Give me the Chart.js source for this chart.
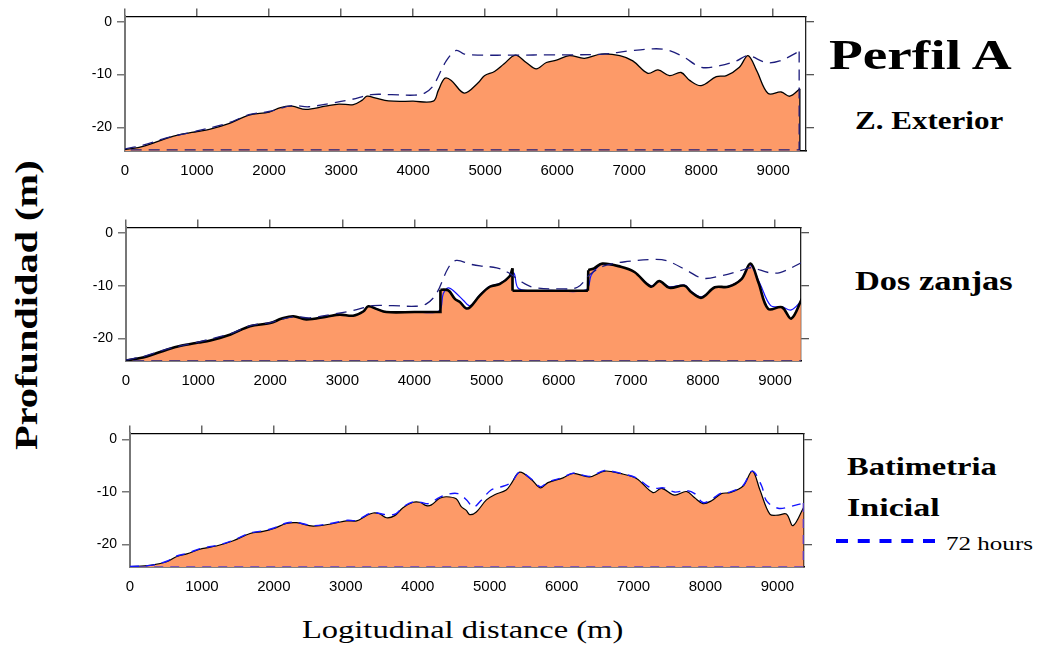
<!DOCTYPE html>
<html>
<head>
<meta charset="utf-8">
<script src="https://cdn.jsdelivr.net/npm/chart.js@4.4.1/dist/chart.umd.min.js"></script>
<style>
    body { margin: 0; background: #fff; width: 1038px; height: 647px; position: relative; overflow: hidden; }
    canvas { position: absolute; }
    .lbl { position: absolute; white-space: nowrap; line-height: 1; font-family: "Liberation Serif", serif; color: #000; transform-origin: 0 0; }
    .b { font-weight: bold; }
</style>
</head>
<body>
<canvas id="c1"></canvas>
<canvas id="c2"></canvas>
<canvas id="c3"></canvas>
<svg style="position:absolute;left:835px;top:535px" width="102" height="12">
    <line x1="1" y1="6" x2="101" y2="6" stroke="#0000ff" stroke-width="4" stroke-dasharray="12 9.75"/>
</svg>
<script>
// ticks
const xTicks = [0, 1000, 2000, 3000, 4000, 5000, 6000, 7000, 8000, 9000];
const yTicks = [0, -10, -20];
const floorDepth = -24.3;

// Perfil A - Z. Exterior
const p1BedX = [0, 250, 575, 760, 1000, 1170, 1450, 1720, 2000, 2160, 2320, 2510, 2780, 2970, 3170, 3290, 3360, 3470, 3660, 4000, 4280, 4350, 4440, 4530, 4710, 4900, 4990, 5130, 5260, 5420, 5570, 5710, 5850, 5990, 6170, 6380, 6610, 6870, 7050, 7260, 7400, 7560, 7720, 7840, 8000, 8210, 8350, 8530, 8650, 8770, 8930, 9110, 9230, 9370];
const p1BedY = [-24.25, -23.6, -22.1, -21.4, -20.8, -20.4, -19.25, -17.7, -17.1, -16.25, -16.0, -16.6, -16.0, -15.6, -15.7, -14.9, -14.1, -14.4, -15.0, -15.05, -15.05, -13.0, -10.7, -11.1, -13.5, -11.6, -10.2, -9.4, -8.0, -6.3, -7.7, -8.9, -7.7, -7.25, -6.4, -6.9, -6.1, -6.4, -7.4, -9.75, -9.1, -10.2, -9.6, -11.1, -12.1, -10.4, -10.2, -8.6, -6.4, -9.25, -13.6, -13.3, -14.1, -12.7];
const p1DashX = [0, 250, 575, 1000, 1450, 1720, 2000, 2320, 2550, 2870, 3150, 3420, 3700, 4020, 4160, 4280, 4460, 4600, 4710, 4940, 5400, 5940, 6170, 6640, 7000, 7330, 7520, 7750, 8000, 8260, 8490, 8650, 8900, 9090, 9360];
const p1DashY = [-24.1, -23.4, -22.0, -20.7, -19.1, -17.6, -17.0, -15.9, -16.1, -15.4, -14.7, -13.8, -13.8, -13.9, -13.5, -12.1, -7.4, -5.4, -6.1, -6.3, -6.3, -6.25, -6.25, -6.1, -5.5, -5.1, -5.3, -6.6, -8.6, -8.3, -7.4, -6.4, -7.7, -7.4, -5.6];

// Dos zanjas
const p2BedX = [0, 250, 575, 760, 1000, 1170, 1450, 1720, 2000, 2160, 2320, 2500, 2780, 2965, 3150, 3290, 3360, 3470, 3610, 4000, 4355, 4360, 4470, 4560, 4630, 4710, 4770, 4905, 5045, 5180, 5320, 5358, 5360, 5900, 6405, 6410, 6490, 6605, 6860, 7050, 7280, 7395, 7535, 7745, 7840, 7980, 8165, 8350, 8535, 8660, 8770, 8905, 9095, 9225, 9372];
const p2BedY = [-24.2, -23.6, -22.1, -21.4, -20.8, -20.4, -19.25, -17.7, -17.1, -16.25, -15.8, -16.4, -15.9, -15.5, -15.7, -14.9, -13.9, -14.4, -15.0, -15.0, -15.0, -10.75, -10.9, -12.5, -13.1, -14.25, -14.1, -11.9, -10.2, -9.7, -8.2, -6.7, -10.95, -10.95, -10.95, -7.05, -6.7, -5.8, -6.4, -7.4, -10.2, -9.1, -10.4, -10.0, -11.25, -12.3, -10.3, -10.2, -8.75, -5.8, -9.4, -14.4, -14.1, -16.25, -12.5];
const p2BlueX = [0, 250, 575, 760, 1000, 1170, 1450, 1720, 2000, 2160, 2320, 2500, 2780, 2965, 3150, 3290, 3360, 3470, 3610, 4000, 4340, 4400, 4470, 4560, 4680, 4770, 4905, 5045, 5180, 5320, 5380, 5450, 5900, 6380, 6450, 6530, 6605, 6860, 7050, 7280, 7395, 7535, 7745, 7840, 7980, 8165, 8350, 8535, 8650, 8790, 8940, 9095, 9225, 9372];
const p2BlueY = [-24.2, -23.6, -22.1, -21.4, -20.8, -20.4, -19.25, -17.7, -17.1, -16.25, -15.8, -16.4, -15.9, -15.5, -15.7, -14.9, -13.9, -14.4, -15.0, -15.0, -14.8, -11.5, -10.4, -11.2, -12.8, -13.8, -11.8, -10.1, -9.6, -8.3, -7.6, -10.6, -10.9, -10.8, -8.0, -6.6, -5.9, -6.4, -7.4, -10.0, -9.2, -10.2, -9.9, -11.1, -12.1, -10.3, -10.1, -8.7, -6.0, -9.6, -13.8, -14.0, -14.6, -12.8];
const p2DashX = [0, 250, 575, 1000, 1450, 1720, 2000, 2320, 2550, 2870, 3150, 3420, 3700, 4020, 4160, 4300, 4470, 4580, 4770, 4910, 5140, 5300, 5465, 5650, 6020, 6260, 6440, 6630, 6950, 7330, 7510, 7790, 8000, 8260, 8530, 8670, 8910, 9070, 9370];
const p2DashY = [-24.1, -23.4, -22.0, -20.7, -19.1, -17.6, -17.0, -15.9, -16.1, -15.4, -14.7, -13.8, -13.8, -13.9, -13.5, -11.6, -6.6, -5.2, -5.9, -6.25, -6.6, -7.5, -9.1, -10.3, -10.6, -10.3, -7.8, -6.25, -5.4, -5.0, -5.3, -7.2, -8.6, -8.1, -7.1, -6.6, -7.5, -7.5, -5.6];

// Batimetria inicial + 72 hours
const p3BedX = [0, 280, 510, 650, 790, 1000, 1200, 1435, 1670, 1850, 1990, 2175, 2315, 2545, 2825, 3010, 3150, 3285, 3380, 3470, 3565, 3680, 3795, 3935, 4030, 4120, 4190, 4305, 4400, 4535, 4605, 4675, 4722, 4815, 4955, 5070, 5230, 5300, 5417, 5580, 5705, 5810, 6020, 6160, 6390, 6600, 6810, 7040, 7270, 7390, 7570, 7735, 7850, 7965, 8080, 8220, 8340, 8520, 8652, 8755, 8895, 9010, 9125, 9218, 9370];
const p3BedY = [-24.2, -24.0, -23.3, -22.3, -21.8, -20.8, -20.3, -19.3, -17.9, -17.5, -17.0, -16.0, -15.85, -16.5, -16.0, -15.5, -15.5, -14.5, -14.0, -14.15, -14.9, -14.5, -13.0, -11.95, -11.95, -12.6, -12.45, -11.2, -10.9, -11.3, -12.8, -13.5, -14.3, -13.8, -11.5, -10.5, -9.6, -8.4, -6.2, -7.6, -9.2, -8.2, -7.3, -6.45, -7.1, -6.0, -6.45, -7.4, -10.1, -9.3, -10.6, -9.9, -11.1, -12.2, -11.7, -10.3, -10.1, -8.9, -6.0, -9.5, -14.2, -14.4, -14.2, -16.4, -12.8];
const p3DashX = [0, 280, 510, 650, 790, 1000, 1200, 1435, 1670, 1850, 1990, 2175, 2315, 2545, 2825, 3010, 3150, 3285, 3380, 3470, 3600, 3700, 3800, 3935, 4050, 4150, 4305, 4420, 4560, 4680, 4770, 4880, 5020, 5140, 5300, 5417, 5580, 5705, 5810, 6020, 6160, 6390, 6600, 6810, 7040, 7200, 7300, 7420, 7570, 7735, 7850, 7965, 8080, 8220, 8340, 8520, 8652, 8780, 8850, 9010, 9171, 9360];
const p3DashY = [-24.2, -24.0, -23.2, -22.2, -21.7, -20.7, -20.2, -19.2, -17.8, -17.4, -16.9, -15.9, -15.8, -16.4, -15.9, -15.4, -15.4, -14.4, -13.9, -14.1, -14.4, -14.1, -12.8, -11.9, -12.0, -12.2, -11.0, -10.4, -10.3, -11.5, -12.9, -11.6, -9.6, -9.1, -8.2, -6.2, -7.5, -9.0, -8.1, -7.2, -6.4, -7.0, -5.9, -6.4, -7.3, -8.9, -9.3, -9.2, -10.0, -9.7, -10.3, -12.0, -11.4, -10.2, -10.0, -8.8, -6.0, -8.8, -11.7, -13.1, -12.8, -12.1];

const orange = "#FD9A68";
const navy = "#1c1c7c";
const blue = "#1414ff";
const smooth = 0.35;

function pts(xs, ys) {
    return xs.map((x, i) => ({ x: x, y: ys[i] }));
}
// split a profile where it jumps vertically (trench walls)
function runs(xs, ys) {
    const out = [[]];
    xs.forEach((x, i) => {
        if (i > 0 && x - xs[i - 1] < 10) out.push([]);
        out[out.length - 1].push({ x: x, y: ys[i] });
    });
    return out;
}
function steps(xs, ys) {
    const r = runs(xs, ys), out = [];
    for (let k = 1; k < r.length; k++) out.push([r[k - 1][r[k - 1].length - 1], r[k][0]]);
    return out;
}
// vertical drop at the end of a profile
function closeDown(xs, ys) {
    const n = xs.length - 1;
    return [{ x: xs[n], y: ys[n] }, { x: xs[n], y: floorDepth }];
}
// drop + back along the bottom
function closeLoop(xs, ys) {
    return closeDown(xs, ys).concat([{ x: xs[0], y: floorDepth }]);
}

function fillSet(data, t) {
    return { data, borderWidth: 0, backgroundColor: orange, fill: "start", pointRadius: 0, tension: t, order: 9 };
}
function lineSet(data, color, width, dash, order) {
    return { data, borderColor: color, borderWidth: width, borderDash: dash, pointRadius: 0, fill: false, tension: smooth, order };
}
function edgeSet(data, color, width, dash, order) {
    return { data, borderColor: color, borderWidth: width, borderDash: dash, pointRadius: 0, fill: false, tension: 0, order };
}
// bed profile: orange fill + outline, kept sharp at the trench walls
function bedSets(xs, ys, width) {
    const r = runs(xs, ys);
    // one fill for the whole profile (no seams); straight chords where there are walls
    const sets = [fillSet(pts(xs, ys), r.length > 1 ? 0 : smooth)];
    r.forEach(run => sets.push(lineSet(run, "#000", width, [], 3)));
    steps(xs, ys).forEach(s => sets.push(edgeSet(s, "#000", width, [], 3)));
    sets.push(edgeSet(closeDown(xs, ys), "#000", Math.min(width, 2), [], 3));
    return sets;
}

function makePanel(id, box, datasets) {
    const cv = document.getElementById(id);
    const padL = 60, padT = 12, padR = 14, padB = 34;
    cv.width = box.r - box.l + padL + padR;
    cv.height = box.b - box.t + padT + padB;
    cv.style.left = (box.l - padL) + "px";
    cv.style.top = (box.t - padT) + "px";

    const setX = s => { s.ticks = xTicks.map(v => ({ value: v })); };
    const setY = s => { s.ticks = yTicks.map(v => ({ value: v })); };

    new Chart(cv, {
        type: "line",
        data: { datasets },
        options: {
            responsive: false,
            animation: false,
            devicePixelRatio: 1,
            layout: { padding: { left: 0, top: padT, right: padR, bottom: 0 } },
            plugins: { legend: { display: false }, tooltip: { enabled: false } },
            scales: {
                x: {
                    type: "linear", position: "bottom", min: 0, max: box.xMax, z: 1,
                    afterBuildTicks: setX, afterFit: s => { s.height = padB; },
                    grid: { drawOnChartArea: false, drawTicks: false },
                    border: { color: "#000", width: 1.5 },
                    ticks: { color: "#000", font: { family: "Liberation Sans", size: 15 }, padding: 11, maxRotation: 0, autoSkip: false, callback: v => String(v) }
                },
                xTop: {
                    type: "linear", position: "top", min: 0, max: box.xMax, z: 1,
                    afterBuildTicks: setX, afterFit: s => { s.height = 0; },
                    grid: { drawOnChartArea: false, tickLength: 8, color: "#666", lineWidth: 1.5 },
                    border: { color: "#000", width: 1.3 },
                    ticks: { display: false }
                },
                y: {
                    type: "linear", position: "left", min: box.yMin, max: box.yMax, z: 1,
                    afterBuildTicks: setY, afterFit: s => { s.width = padL; },
                    grid: { drawOnChartArea: false, tickLength: 8, color: "#777", lineWidth: 1.5 },
                    border: { color: "#777", width: 2 },
                    ticks: { color: "#000", font: { family: "Liberation Sans", size: 14 }, padding: 5 }
                },
                yRight: {
                    type: "linear", position: "right", min: box.yMin, max: box.yMax, z: 1,
                    afterBuildTicks: setY, afterFit: s => { s.width = 0; },
                    grid: { drawOnChartArea: false, tickLength: 8, color: "#555", lineWidth: 1.3 },
                    border: { color: "#222", width: 1.3 },
                    ticks: { display: false }
                }
            }
        }
    });
}

makePanel("c1", { l: 125, t: 15, r: 806, b: 151, xMax: 9455, yMin: -24.5, yMax: 1.05 },
    bedSets(p1BedX, p1BedY, 1.3).concat([
        lineSet(pts(p1DashX, p1DashY), navy, 1.3, [11, 7], 1),
        edgeSet(closeLoop(p1DashX, p1DashY), navy, 1.3, [11, 7], 1)
    ]));

makePanel("c2", { l: 126, t: 226, r: 801, b: 361, xMax: 9360, yMin: -24.3, yMax: 1.07 },
    bedSets(p2BedX, p2BedY, 2.6).concat([
        lineSet(pts(p2BlueX, p2BlueY), blue, 1.2, [], 4),
        lineSet(pts(p2DashX, p2DashY), navy, 1.3, [11, 7], 1),
        edgeSet(closeLoop(p2DashX, p2DashY), navy, 1.3, [11, 7], 1)
    ]));

makePanel("c3", { l: 130, t: 432, r: 804, b: 567, xMax: 9370, yMin: -24.3, yMax: 1.19 },
    bedSets(p3BedX, p3BedY, 1.2).concat([
        lineSet(pts(p3DashX, p3DashY), blue, 1.4, [9, 7], 1),
        edgeSet(closeLoop(p3DashX, p3DashY), "#5a3cc8", 1.3, [9, 7], 1)
    ]));

// text labels: baseline placed, stretched to the measured width
function addLabel(text, size, bold, left, baseline, width, vertical) {
    const el = document.createElement("div");
    el.className = "lbl" + (bold ? " b" : "");
    el.style.fontSize = size + "px";
    el.textContent = text;
    document.body.appendChild(el);
    const sx = width / el.offsetWidth;
    const asc = 0.8375 * size;
    if (vertical) {
        // left = baseline x, baseline arg = bottom y where the text starts
        el.style.left = (left - asc) + "px";
        el.style.top = baseline + "px";
        el.style.transform = "rotate(-90deg) scaleX(" + sx + ")";
    } else {
        el.style.left = left + "px";
        el.style.top = (baseline - asc) + "px";
        el.style.transform = "scaleX(" + sx + ")";
    }
}

addLabel("Perfil A", 42, true, 829, 69, 183);
addLabel("Z. Exterior", 26, true, 855, 130, 148);
addLabel("Dos zanjas", 27, true, 855, 291, 158);
addLabel("Batimetria", 26, true, 847, 476, 150);
addLabel("Inicial", 26, true, 847, 517, 93);
addLabel("72 hours", 19, false, 946, 550, 87);
addLabel("Logitudinal distance (m)", 25, false, 302, 638, 321);
addLabel("Profundidad (m)", 32, true, 37, 450, 290, true);
</script>
</body>
</html>
